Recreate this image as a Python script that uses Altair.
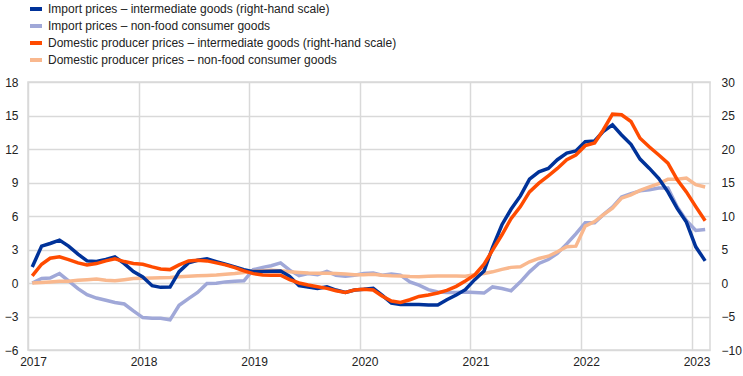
import altair as alt
import pandas as pd

# Monthly observations, Jan 2017 - Feb 2023 (plotted mid-month)
start_month = "2017-01-01"
n_months = 74

# Import prices - intermediate goods (right-hand scale)
import_intermediate = [
    2.4, 5.5, 5.9, 6.4, 5.5, 4.3, 3.3, 3.2, 3.5, 3.9,
    2.9, 1.7, 0.9, -0.4, -0.65, -0.6, 1.7, 3.0, 3.4, 3.6,
    3.2, 2.8, 2.4, 2.0, 1.7, 1.7, 1.75, 1.8, 1.0, -0.4,
    -0.6, -0.8, -0.55, -1.05, -1.4, -1.05, -0.95, -0.8, -1.8, -3.0,
    -3.2, -3.2, -3.2, -3.3, -3.3, -2.5, -1.8, -1.0, 0.5, 1.8,
    5.3, 8.7, 11.0, 13.0, 15.5, 16.6, 17.1, 18.4, 19.4, 19.7,
    21.1, 21.2, 22.6, 23.6, 22.1, 20.7, 18.5, 17.1, 15.6, 13.6,
    11.1, 9.1, 5.4, 3.3,
]

# Import prices - non-food consumer goods (left-hand scale)
import_nonfood = [
    0.0, 0.4, 0.45, 0.85, 0.2, -0.5, -1.05, -1.35, -1.55, -1.75,
    -1.88, -2.5, -3.1, -3.16, -3.16, -3.3, -2.0, -1.4, -0.85, -0.05,
    -0.03, 0.1, 0.15, 0.2, 1.2, 1.4, 1.55, 1.8, 1.15, 0.65,
    0.85, 0.75, 1.05, 0.7, 0.6, 0.7, 0.85, 0.9, 0.7, 0.8,
    0.7, 0.1, -0.2, -0.6, -0.8, -0.85, -0.85, -0.8, -0.85, -0.9,
    -0.35, -0.5, -0.7, 0.1, 1.0, 1.75, 2.1, 2.65, 3.5, 4.4,
    5.4, 5.4, 6.1, 6.8, 7.7, 8.0, 8.25, 8.35, 8.5, 8.5,
    6.8, 5.6, 4.7, 4.8,
]

# Domestic producer prices - intermediate goods (right-hand scale)
domestic_intermediate = [
    1.05, 2.8, 3.7, 3.9, 3.5, 3.0, 2.7, 2.9, 3.3, 3.6,
    3.2, 2.9, 2.8, 2.4, 2.1, 2.0, 2.7, 3.3, 3.4, 3.3,
    3.0, 2.7, 2.3, 1.8, 1.4, 1.2, 1.15, 1.15, 0.5, 0.0,
    -0.3, -0.55, -0.8, -1.15, -1.4, -1.05, -0.95, -1.05, -1.95, -2.7,
    -2.9, -2.5, -2.0, -1.8, -1.5, -1.1, -0.5, 0.3, 1.2, 2.8,
    4.9, 7.2, 9.6, 11.4, 13.6, 14.9, 16.0, 17.1, 18.4, 19.1,
    20.5, 20.9, 22.8, 25.2, 25.1, 24.1, 21.6, 20.3, 19.1, 17.9,
    15.4, 13.6, 11.4, 9.3,
]

# Domestic producer prices - non-food consumer goods (left-hand scale)
domestic_nonfood = [
    0.0, 0.05, 0.1, 0.15, 0.15, 0.25, 0.3, 0.35, 0.25, 0.2,
    0.3, 0.4, 0.42, 0.45, 0.47, 0.5, 0.55, 0.6, 0.65, 0.68,
    0.72, 0.78, 0.85, 0.95, 1.05, 1.1, 1.15, 1.1, 1.0, 0.95,
    0.9, 0.88, 0.87, 0.85, 0.8, 0.75, 0.75, 0.78, 0.7, 0.65,
    0.62, 0.58, 0.57, 0.6, 0.62, 0.63, 0.63, 0.6, 0.75, 0.85,
    1.0, 1.22, 1.4, 1.46, 1.9, 2.2, 2.4, 2.8, 3.25, 3.3,
    5.1, 5.5, 6.1, 6.7, 7.6, 7.9, 8.3, 8.6, 8.9, 9.3,
    9.3, 9.4, 8.8, 8.6,
]

series_names = [
    "Import prices \u2013 intermediate goods (right-hand scale)",
    "Import prices \u2013 non-food consumer goods",
    "Domestic producer prices \u2013 intermediate goods (right-hand scale)",
    "Domestic producer prices \u2013 non-food consumer goods",
]
series_colors = ["#003299", "#a0a8d8", "#ff4b00", "#f9b88e"]

left_ticks = [-6, -3, 0, 3, 6, 9, 12, 15, 18]
right_ticks = [-10, -5, 0, 5, 10, 15, 20, 25, 30]

dates = pd.date_range(start_month, periods=n_months, freq="MS") + pd.Timedelta(days=14)
date_str = [d.strftime("%Y-%m-%d") for d in dates]

left_df = pd.concat([
    pd.DataFrame({"date": date_str, "value": import_nonfood, "series": series_names[1]}),
    pd.DataFrame({"date": date_str, "value": domestic_nonfood, "series": series_names[3]}),
])
right_df = pd.concat([
    pd.DataFrame({"date": date_str, "value": import_intermediate, "series": series_names[0]}),
    pd.DataFrame({"date": date_str, "value": domestic_intermediate, "series": series_names[2]}),
])

grid_color = "#d9d9d9"
label_color = "#222222"

x_enc = alt.X(
    "date:T",
    scale=alt.Scale(domain=["2017-01-01", "2023-03-03"]),
    axis=alt.Axis(
        title=None, format="%Y", tickCount={"interval": "year", "step": 1},
        grid=True, gridColor=grid_color, gridWidth=1.5, ticks=False, domain=False,
        labelFlush=False, labelOffset=5, labelPadding=6, labelFontSize=12, labelColor=label_color,
    ),
)

color_enc = alt.Color(
    "series:N",
    scale=alt.Scale(domain=series_names, range=series_colors),
    legend=alt.Legend(
        title=None, orient="none", legendX=0, legendY=-81, direction="vertical",
        symbolType="stroke", symbolStrokeWidth=4, symbolSize=144,
        labelFontSize=12, labelColor=label_color, rowPadding=1, labelOffset=4,
        labelLimit=600,
    ),
)

left = alt.Chart(left_df).mark_line(strokeWidth=3.5).encode(
    x=x_enc,
    y=alt.Y(
        "value:Q",
        scale=alt.Scale(domain=[-6, 18], nice=False, zero=False),
        axis=alt.Axis(
            title=None, values=left_ticks, grid=True, gridColor=grid_color, gridWidth=1.5,
            ticks=False, domain=False, labelPadding=10, labelFontSize=12, labelColor=label_color,
        ),
    ),
    color=color_enc,
    detail="series:N",
)

right = alt.Chart(right_df).mark_line(strokeWidth=3.5).encode(
    x=x_enc,
    y=alt.Y(
        "value:Q",
        scale=alt.Scale(domain=[-10, 30], nice=False, zero=False),
        axis=alt.Axis(
            title=None, orient="right", values=right_ticks, grid=False,
            ticks=False, domain=False, labelPadding=11, labelFontSize=12, labelColor=label_color,
        ),
    ),
    color=color_enc,
    detail="series:N",
)

chart = alt.layer(left, right).resolve_scale(y="independent").properties(
    width=682,
    height=268,
    padding={"left": 28, "top": 82, "right": 33, "bottom": 26},
    autosize=alt.AutoSizeParams(type="none"),
).configure(font="Liberation Sans").configure_view(stroke=grid_color, strokeWidth=1.5)

chart.save("out.html", embed_options={"renderer": "svg", "actions": False})
